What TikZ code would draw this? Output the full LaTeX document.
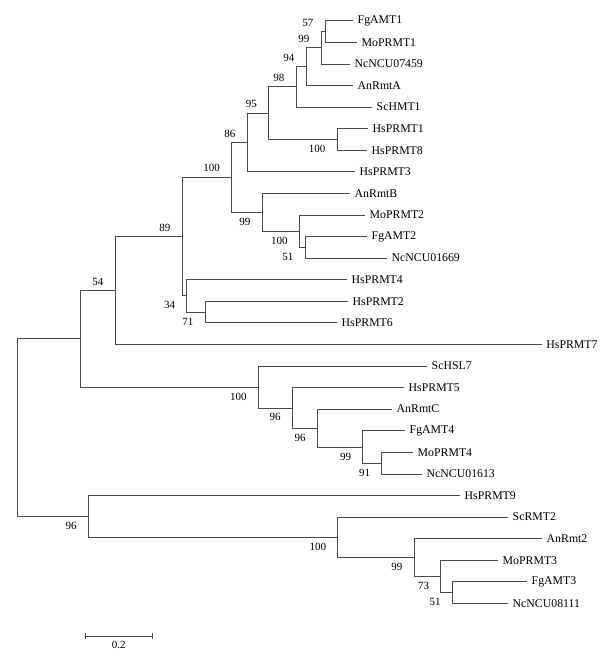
\documentclass[tikz,border=0pt]{standalone}
\usepackage{fontspec}
\setmainfont{Liberation Serif}
\usetikzlibrary{arrows.meta}
\tikzstyle{branch} = [draw=black!70,line width=0.7pt]
\tikzstyle{taxon} = [anchor=west,inner xsep=4.5pt,inner ysep=0pt,font=\fontsize{11.8}{12}\selectfont]
\tikzstyle{bootup} = [anchor=east,inner sep=0pt,xshift=-11.5pt,yshift=9pt,font=\fontsize{11}{12}\selectfont]
\tikzstyle{bootdown} = [anchor=east,inner sep=0pt,xshift=-11.5pt,yshift=-9.5pt,font=\fontsize{11}{12}\selectfont]

\begin{document}
\begin{tikzpicture}[x=1pt,y=-21.58pt]
    \useasboundingbox (0,-0.959) rectangle (611,29.30);
    % taxa
    \node (FgAMT1)[taxon] at (353,0) {FgAMT1};
    \node (MoPRMT1)[taxon] at (357,1) {MoPRMT1};
    \node (NcNCU07459)[taxon] at (350,2) {NcNCU07459};
    \node (AnRmtA)[taxon] at (353,3) {AnRmtA};
    \node (ScHMT1)[taxon] at (372,4) {ScHMT1};
    \node (HsPRMT1)[taxon] at (368,5) {HsPRMT1};
    \node (HsPRMT8)[taxon] at (367,6) {HsPRMT8};
    \node (HsPRMT3)[taxon] at (355,7) {HsPRMT3};
    \node (AnRmtB)[taxon] at (350,8) {AnRmtB};
    \node (MoPRMT2)[taxon] at (365,9) {MoPRMT2};
    \node (FgAMT2)[taxon] at (367,10) {FgAMT2};
    \node (NcNCU01669)[taxon] at (387,11) {NcNCU01669};
    \node (HsPRMT4)[taxon] at (347,12) {HsPRMT4};
    \node (HsPRMT2)[taxon] at (348,13) {HsPRMT2};
    \node (HsPRMT6)[taxon] at (337,14) {HsPRMT6};
    \node (HsPRMT7)[taxon] at (541.7,15) {HsPRMT7};
    \node (ScHSL7)[taxon] at (427,16) {ScHSL7};
    \node (HsPRMT5)[taxon] at (404,17) {HsPRMT5};
    \node (AnRmtC)[taxon] at (392,18) {AnRmtC};
    \node (FgAMT4)[taxon] at (405,19) {FgAMT4};
    \node (MoPRMT4)[taxon] at (413,20) {MoPRMT4};
    \node (NcNCU01613)[taxon] at (422,21) {NcNCU01613};
    \node (HsPRMT9)[taxon] at (460,22) {HsPRMT9};
    \node (ScRMT2)[taxon] at (508,23) {ScRMT2};
    \node (AnRmt2)[taxon] at (542,24) {AnRmt2};
    \node (MoPRMT3)[taxon] at (498,25) {MoPRMT3};
    \node (FgAMT3)[taxon] at (527,26) {FgAMT3};
    \node (NcNCU08111)[taxon] at (508,27) {NcNCU08111};
    % internal nodes
    \coordinate (n57) at (325,0.5);
    \coordinate (n99a) at (321,1.25);
    \coordinate (n94) at (306,2.125);
    \coordinate (n98) at (296,3.0625);
    \coordinate (n100a) at (337,5.5);
    \coordinate (n95) at (268.5,4.28);
    \coordinate (n86) at (247,5.64);
    \coordinate (n51a) at (305,10.5);
    \coordinate (n100b) at (299.3,9.75);
    \coordinate (n99b) at (262,8.875);
    \coordinate (n100c) at (231.5,7.26);
    \coordinate (n71) at (205,13.5);
    \coordinate (n34) at (186.7,12.75);
    \coordinate (n89) at (182,10.0);
    \coordinate (n54) at (115,12.5);
    \coordinate (n91) at (381.7,20.5);
    \coordinate (n99c) at (362.7,19.75);
    \coordinate (n96b) at (317.3,18.875);
    \coordinate (n96a) at (292.3,17.94);
    \coordinate (n100d) at (258.3,16.97);
    \coordinate (nA) at (80.7,14.73);
    \coordinate (n51c) at (452.3,26.5);
    \coordinate (n73) at (440.7,25.75);
    \coordinate (n99d) at (414,24.875);
    \coordinate (n100e) at (337.7,23.94);
    \coordinate (n96c) at (88.3,22.97);
    \coordinate (root) at (17.7,18.85);
    % branches
    \draw [branch] (n57) |- (FgAMT1.west);
    \draw [branch] (n57) |- (MoPRMT1.west);
    \draw [branch] (n99a) |- (n57);
    \draw [branch] (n99a) |- (NcNCU07459.west);
    \draw [branch] (n94) |- (n99a);
    \draw [branch] (n94) |- (AnRmtA.west);
    \draw [branch] (n98) |- (n94);
    \draw [branch] (n98) |- (ScHMT1.west);
    \draw [branch] (n100a) |- (HsPRMT1.west);
    \draw [branch] (n100a) |- (HsPRMT8.west);
    \draw [branch] (n95) |- (n98);
    \draw [branch] (n95) |- (n100a);
    \draw [branch] (n86) |- (n95);
    \draw [branch] (n86) |- (HsPRMT3.west);
    \draw [branch] (n51a) |- (FgAMT2.west);
    \draw [branch] (n51a) |- (NcNCU01669.west);
    \draw [branch] (n100b) |- (MoPRMT2.west);
    \draw [branch] (n100b) |- (n51a);
    \draw [branch] (n99b) |- (AnRmtB.west);
    \draw [branch] (n99b) |- (n100b);
    \draw [branch] (n100c) |- (n86);
    \draw [branch] (n100c) |- (n99b);
    \draw [branch] (n71) |- (HsPRMT2.west);
    \draw [branch] (n71) |- (HsPRMT6.west);
    \draw [branch] (n34) |- (HsPRMT4.west);
    \draw [branch] (n34) |- (n71);
    \draw [branch] (n89) |- (n100c);
    \draw [branch] (n89) |- (n34);
    \draw [branch] (n54) |- (n89);
    \draw [branch] (n54) |- (HsPRMT7.west);
    \draw [branch] (n91) |- (MoPRMT4.west);
    \draw [branch] (n91) |- (NcNCU01613.west);
    \draw [branch] (n99c) |- (FgAMT4.west);
    \draw [branch] (n99c) |- (n91);
    \draw [branch] (n96b) |- (AnRmtC.west);
    \draw [branch] (n96b) |- (n99c);
    \draw [branch] (n96a) |- (HsPRMT5.west);
    \draw [branch] (n96a) |- (n96b);
    \draw [branch] (n100d) |- (ScHSL7.west);
    \draw [branch] (n100d) |- (n96a);
    \draw [branch] (nA) |- (n54);
    \draw [branch] (nA) |- (n100d);
    \draw [branch] (n51c) |- (FgAMT3.west);
    \draw [branch] (n51c) |- (NcNCU08111.west);
    \draw [branch] (n73) |- (MoPRMT3.west);
    \draw [branch] (n73) |- (n51c);
    \draw [branch] (n99d) |- (AnRmt2.west);
    \draw [branch] (n99d) |- (n73);
    \draw [branch] (n100e) |- (ScRMT2.west);
    \draw [branch] (n100e) |- (n99d);
    \draw [branch] (n96c) |- (HsPRMT9.west);
    \draw [branch] (n96c) |- (n100e);
    \draw [branch] (root) |- (nA);
    \draw [branch] (root) |- (n96c);
    % bootstrap values
    \node (b57)[bootup] at (n57) {57};
    \node (b99a)[bootup] at (n99a) {99};
    \node (b94)[bootup] at (n94) {94};
    \node (b98)[bootup] at (n98) {98};
    \node (b95)[bootup] at (n95) {95};
    \node (b86)[bootup] at (n86) {86};
    \node (b100c)[bootup] at (n100c) {100};
    \node (b89)[bootup] at (n89) {89};
    \node (b54)[bootup] at (n54) {54};
    \node (b100a)[bootdown] at (n100a) {100};
    \node (b99b)[bootdown] at (n99b) {99};
    \node (b100b)[bootdown] at (n100b) {100};
    \node (b51a)[bootdown] at (n51a) {51};
    \node (b34)[bootdown] at (n34) {34};
    \node (b71)[bootdown] at (n71) {71};
    \node (b100d)[bootdown] at (n100d) {100};
    \node (b96a)[bootdown] at (n96a) {96};
    \node (b96b)[bootdown] at (n96b) {96};
    \node (b99c)[bootdown] at (n99c) {99};
    \node (b91)[bootdown] at (n91) {91};
    \node (b96c)[bootdown] at (n96c) {96};
    \node (b100e)[bootdown] at (n100e) {100};
    \node (b99d)[bootdown] at (n99d) {99};
    \node (b73)[bootdown] at (n73) {73};
    \node (b51c)[bootdown] at (n51c) {51};
    % scale bar
    \coordinate (sbl) at (85,28.51);
    \coordinate (sbr) at (152.3,28.51);
    \draw [branch,{Bar[width=6pt]}-{Bar[width=6pt]}] (sbl) -- (sbr);
    \node (sblabel)[inner sep=0pt,font=\fontsize{11}{12}\selectfont] at (118.7,28.93) {0.2};
\end{tikzpicture}
\end{document}
